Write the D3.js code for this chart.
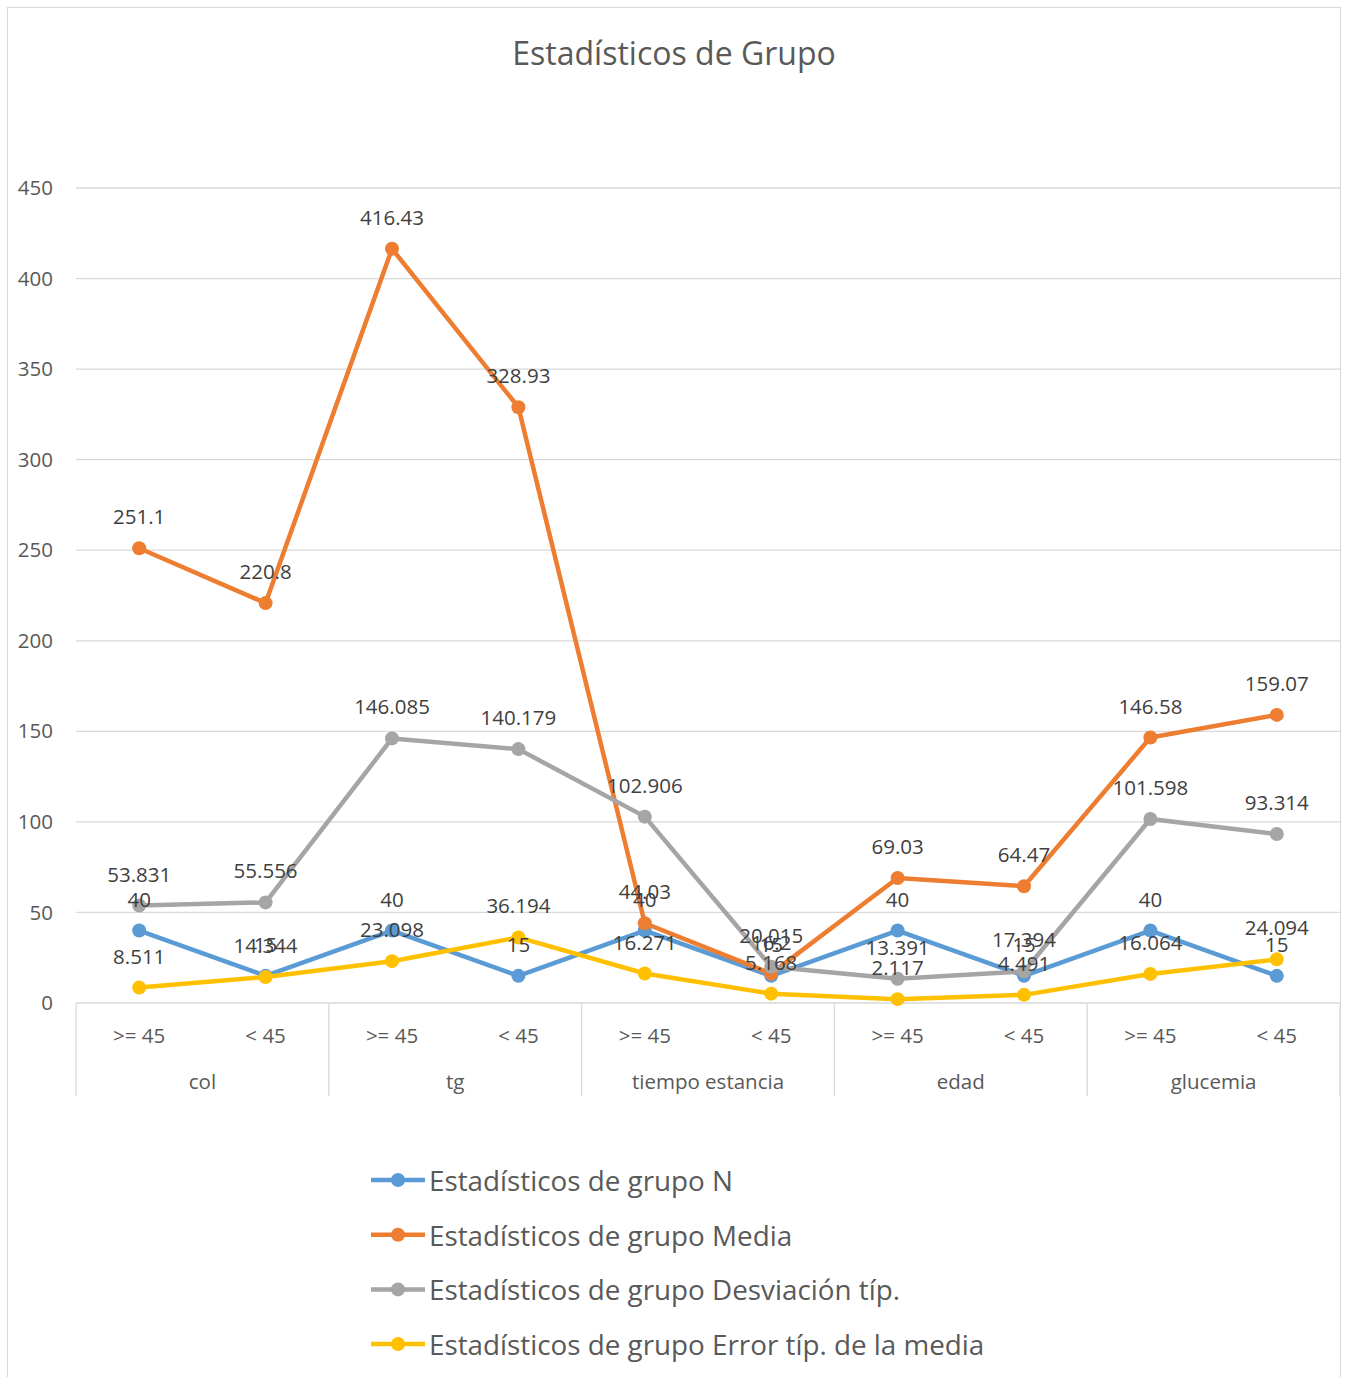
<!DOCTYPE html>
<html>
<head>
<meta charset="utf-8">
<script src="https://cdn.jsdelivr.net/npm/d3@7"></script>
<style>
  html, body { margin: 0; padding: 0; background: #fff; }
  svg { display: block; }
  text { font-family: "Open Sans", "Noto Sans", sans-serif; }
</style>
</head>
<body>
<svg id="chart" width="1347" height="1377"></svg>
<script>
// Category groups and sub-categories along the x axis
const groups = ["col", "tg", "tiempo estancia", "edad", "glucemia"];
const subCats = [">= 45", "< 45"];

// Series values, one per (group, sub-category) pair
const seriesN     = [40, 15, 40, 15, 40, 15, 40, 15, 40, 15];
const seriesMedia = [251.1, 220.8, 416.43, 328.93, 44.03, 16.2, 69.03, 64.47, 146.58, 159.07];
const seriesDesv  = [53.831, 55.556, 146.085, 140.179, 102.906, 20.015, 13.391, 17.394, 101.598, 93.314];
const seriesError = [8.511, 14.344, 23.098, 36.194, 16.271, 5.168, 2.117, 4.491, 16.064, 24.094];

const seriesNames = [
  "Estadísticos de grupo N",
  "Estadísticos de grupo Media",
  "Estadísticos de grupo Desviación típ.",
  "Estadísticos de grupo Error típ. de la media"
];
const seriesColors = ["#5b9bd5", "#ed7d31", "#a5a5a5", "#ffc000"];
const yTicks = [0, 50, 100, 150, 200, 250, 300, 350, 400, 450];

const series = [seriesN, seriesMedia, seriesDesv, seriesError].map((vals, i) => ({
  name: seriesNames[i], color: seriesColors[i], values: vals
}));

const svg = d3.select("#chart");

// outer chart frame
svg.append("rect")
  .attr("x", 7.5).attr("y", 7.5).attr("width", 1333).attr("height", 1380)
  .attr("fill", "#fff").attr("stroke", "#d9d9d9").attr("stroke-width", 1);

// title
svg.append("text")
  .attr("x", 674).attr("y", 52).attr("text-anchor", "middle").attr("dominant-baseline", "central")
  .attr("font-size", 32).attr("fill", "#595959")
  .text("Estadísticos de Grupo");

const plot = { left: 76, right: 1340, top: 188, bottom: 1003 };

const slots = d3.range(groups.length * subCats.length);
const x = d3.scaleBand().domain(slots).range([plot.left, plot.right]).paddingInner(0).paddingOuter(0);
const y = d3.scaleLinear().domain([0, 450]).range([plot.bottom, plot.top]);
const cx = i => x(i) + x.bandwidth() / 2;

// horizontal gridlines
svg.append("g").selectAll("line").data(yTicks.filter(t => t > 0)).join("line")
  .attr("x1", plot.left).attr("x2", plot.right)
  .attr("y1", d => y(d)).attr("y2", d => y(d))
  .attr("stroke", "#d9d9d9").attr("stroke-width", 1.3);

// y-axis tick labels
const yAxis = d3.axisLeft(y).tickValues(yTicks).tickSize(0).tickPadding(23);
const gy = svg.append("g").attr("transform", `translate(${plot.left},0)`).call(yAxis);
gy.select(".domain").remove();
gy.selectAll("text").attr("font-size", 20.5).attr("fill", "#595959")
  .style("font-family", "'Open Sans', sans-serif");

// baseline axis and category separators
svg.append("line")
  .attr("x1", plot.left).attr("x2", plot.right)
  .attr("y1", plot.bottom).attr("y2", plot.bottom)
  .attr("stroke", "#d9d9d9").attr("stroke-width", 1.3);
const sepX = d3.range(groups.length + 1).map(g => g === groups.length ? plot.right : x(g * subCats.length));
svg.append("g").selectAll("line").data(sepX).join("line")
  .attr("x1", d => d).attr("x2", d => d)
  .attr("y1", plot.bottom).attr("y2", 1096)
  .attr("stroke", "#d9d9d9").attr("stroke-width", 1.3);

// sub-category labels
svg.append("g").selectAll("text").data(slots).join("text")
  .attr("x", d => cx(d)).attr("y", 1035)
  .attr("text-anchor", "middle").attr("dominant-baseline", "central")
  .attr("font-size", 20.5).attr("fill", "#595959")
  .text(d => subCats[d % subCats.length]);

// group labels
svg.append("g").selectAll("text").data(groups).join("text")
  .attr("x", (d, g) => (x(g * 2) + x(g * 2 + 1) + x.bandwidth()) / 2).attr("y", 1081)
  .attr("text-anchor", "middle").attr("dominant-baseline", "central")
  .attr("font-size", 20.5).attr("fill", "#595959")
  .text(d => d);

// lines and markers
const line = d3.line().x((d, i) => cx(i)).y(d => y(d));
series.forEach(s => {
  const g = svg.append("g");
  g.append("path").datum(s.values)
    .attr("d", line).attr("fill", "none")
    .attr("stroke", s.color).attr("stroke-width", 4.5)
    .attr("stroke-linejoin", "round").attr("stroke-linecap", "round");
  g.selectAll("circle").data(s.values).join("circle")
    .attr("cx", (d, i) => cx(i)).attr("cy", d => y(d)).attr("r", 7)
    .attr("fill", s.color);
});

// data labels above each point
series.forEach(s => {
  svg.append("g").selectAll("text").data(s.values).join("text")
    .attr("x", (d, i) => cx(i)).attr("y", d => y(d) - 32)
    .attr("text-anchor", "middle").attr("dominant-baseline", "central")
    .attr("font-size", 20.5).attr("fill", "#404040")
    .text(d => String(d));
});

// legend
const legend = svg.append("g");
series.forEach((s, i) => {
  const ly = 1180 + i * 54.7;
  legend.append("line")
    .attr("x1", 371).attr("x2", 425).attr("y1", ly).attr("y2", ly)
    .attr("stroke", s.color).attr("stroke-width", 4.5);
  legend.append("circle").attr("cx", 398).attr("cy", ly).attr("r", 7).attr("fill", s.color);
  legend.append("text")
    .attr("x", 429).attr("y", ly).attr("dominant-baseline", "central")
    .attr("font-size", 27.8).attr("fill", "#595959")
    .text(s.name);
});
</script>
</body>
</html>
